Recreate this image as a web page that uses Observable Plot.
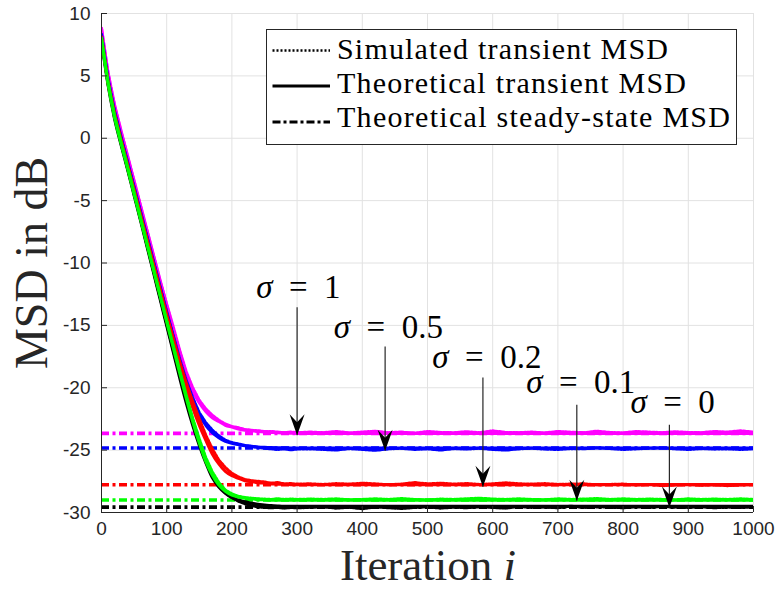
<!DOCTYPE html>
<html>
<head>
<meta charset="utf-8">
<script src="https://cdn.jsdelivr.net/npm/d3@7"></script>
<script src="https://cdn.jsdelivr.net/npm/@observablehq/plot@0.6"></script>
<style>
  html, body { margin: 0; padding: 0; background: #fff; }
  #chart { width: 776px; height: 589px; position: relative; }
</style>
</head>
<body>
<div id="chart"></div>
<script>
// ---------- data ----------
const xTicks = [0, 100, 200, 300, 400, 500, 600, 700, 800, 900, 1000];
const yTicks = [-30, -25, -20, -15, -10, -5, 0, 5, 10];

const sigmaLabels = ["1", "0.5", "0.2", "0.1", "0"];
const seriesColors = ["#ff00ff", "#0000ff", "#ff0000", "#00ff00", "#000000"];

// theoretical transient MSD (dB)
const thIter = [0,10,20,30,40,50,60,70,80,90,100,110,120,130,140,150,160,170,180,190,200,210,220,230,240,250,260,270,280,290,300,1000];
const thSigma1  = [8.8,5.2,2.6,0.5,-1.5,-3.5,-5.5,-7.5,-9.5,-11.5,-13.4,-15.3,-17.2,-19.0,-20.3,-21.2,-21.9,-22.4,-22.7,-23.0,-23.15,-23.3,-23.4,-23.45,-23.5,-23.54,-23.57,-23.6,-23.62,-23.64,-23.66,-23.66];
const thSigma05 = [8.3,4.7,2.1,0.0,-2.0,-4.0,-6.0,-8.0,-10.0,-12.0,-14.0,-15.95,-17.9,-19.6,-21.0,-22.2,-23.0,-23.6,-24.0,-24.3,-24.45,-24.55,-24.65,-24.7,-24.75,-24.78,-24.8,-24.81,-24.82,-24.83,-24.83,-24.83];
const thSigma02 = [8.1,4.5,1.9,-0.2,-2.2,-4.25,-6.3,-8.3,-10.3,-12.3,-14.3,-16.3,-18.3,-20.0,-21.6,-23.0,-24.2,-25.3,-26.1,-26.7,-27.05,-27.25,-27.45,-27.53,-27.6,-27.65,-27.7,-27.72,-27.75,-27.76,-27.77,-27.77];
const thSigma01 = [8.0,4.4,1.7,-0.4,-2.4,-4.45,-6.5,-8.55,-10.6,-12.65,-14.7,-16.75,-18.8,-20.8,-22.7,-24.4,-25.9,-27.0,-27.8,-28.3,-28.6,-28.75,-28.85,-28.9,-28.95,-28.98,-29.0,-29.0,-29.0,-29.0,-29.0,-29.0];
const thSigma0  = [7.9,4.3,1.6,-0.5,-2.5,-4.55,-6.6,-8.7,-10.8,-12.9,-15.0,-17.1,-19.2,-21.2,-23.0,-24.6,-26.0,-27.2,-27.95,-28.45,-28.8,-29.0,-29.15,-29.25,-29.35,-29.4,-29.45,-29.48,-29.5,-29.5,-29.5,-29.5];

// simulated transient MSD (dB)
const simIter = [0,10,20,30,40,50,60,70,80,90,100,110,120,130,140,150,160,170,180,190,200,210,220,230,240,250,260,270,280,290,300,
  320,340,360,380,400,420,440,460,480,500,520,540,560,580,600,620,640,660,680,700,720,740,760,780,800,820,840,860,880,900,920,940,960,980,1000];
const simSigma1 = [8.8,5.3,2.7,0.6,-1.4,-3.4,-5.4,-7.4,-9.4,-11.4,-13.3,-15.1,-17.0,-18.7,-20.0,-21.0,-21.7,-22.2,-22.6,-22.9,-23.1,-23.2,-23.35,-23.4,-23.45,-23.5,-23.5,-23.55,-23.6,-23.55,-23.6,
  -23.55,-23.6,-23.5,-23.62,-23.55,-23.48,-23.6,-23.55,-23.65,-23.5,-23.58,-23.6,-23.52,-23.6,-23.45,-23.58,-23.6,-23.55,-23.62,-23.5,-23.56,-23.6,-23.48,-23.58,-23.62,-23.5,-23.55,-23.6,-23.52,-23.58,-23.6,-23.5,-23.55,-23.45,-23.55];
const simSigma05 = [8.3,4.8,2.2,0.1,-1.9,-3.9,-5.9,-7.9,-9.9,-11.9,-13.9,-15.8,-17.7,-19.4,-20.8,-22.0,-22.8,-23.4,-23.85,-24.2,-24.4,-24.5,-24.62,-24.7,-24.78,-24.85,-24.9,-24.95,-24.9,-24.98,-24.92,
  -24.9,-24.95,-25.0,-24.88,-24.95,-25.02,-24.9,-24.85,-24.95,-24.9,-25.0,-24.88,-24.92,-24.85,-24.95,-25.0,-24.9,-24.85,-24.92,-24.95,-24.88,-24.9,-24.8,-24.88,-24.95,-24.9,-24.85,-24.82,-24.9,-24.95,-24.88,-24.92,-24.9,-24.95,-24.9];
const simSigma02 = [8.1,4.6,2.0,-0.1,-2.1,-4.1,-6.1,-8.1,-10.1,-12.1,-14.1,-16.0,-17.9,-19.6,-21.1,-22.5,-23.8,-24.9,-25.8,-26.4,-26.85,-27.15,-27.35,-27.45,-27.5,-27.55,-27.65,-27.6,-27.7,-27.68,-27.72,
  -27.7,-27.75,-27.68,-27.72,-27.65,-27.7,-27.78,-27.72,-27.6,-27.7,-27.65,-27.72,-27.68,-27.75,-27.7,-27.62,-27.7,-27.72,-27.68,-27.75,-27.72,-27.7,-27.78,-27.75,-27.72,-27.8,-27.75,-27.85,-27.8,-27.75,-27.82,-27.78,-27.85,-27.8,-27.75];
const simSigma01 = [8.0,4.5,1.8,-0.3,-2.3,-4.35,-6.4,-8.45,-10.5,-12.55,-14.6,-16.6,-18.6,-20.6,-22.45,-24.1,-25.6,-26.75,-27.6,-28.2,-28.5,-28.7,-28.8,-28.85,-28.9,-28.92,-28.95,-28.9,-28.95,-28.92,-28.95,
  -28.92,-28.95,-28.9,-28.98,-28.95,-28.9,-28.95,-28.88,-28.95,-29.0,-28.92,-28.95,-28.9,-28.85,-28.92,-28.95,-28.9,-28.95,-28.98,-28.9,-28.95,-28.92,-28.88,-28.95,-28.9,-28.95,-28.92,-28.95,-28.98,-28.9,-28.95,-28.92,-28.95,-28.9,-28.95];
const simSigma0 = [7.9,4.4,1.7,-0.4,-2.4,-4.45,-6.5,-8.6,-10.7,-12.8,-14.9,-17.0,-19.0,-21.0,-22.8,-24.4,-25.8,-27.0,-27.8,-28.4,-28.8,-29.1,-29.3,-29.45,-29.55,-29.6,-29.62,-29.6,-29.65,-29.6,-29.62,
  -29.6,-29.55,-29.65,-29.58,-29.7,-29.55,-29.62,-29.68,-29.6,-29.55,-29.65,-29.58,-29.62,-29.55,-29.6,-29.65,-29.52,-29.6,-29.58,-29.62,-29.5,-29.6,-29.55,-29.58,-29.62,-29.55,-29.6,-29.52,-29.58,-29.6,-29.55,-29.62,-29.58,-29.6,-29.55];

// theoretical steady-state MSD (dB)
const ssLevels = [-23.66, -24.83, -27.77, -29.0, -29.57];

// annotations: arrow x, arrow start, arrow tip, label position
const annX    = [300, 435, 585, 729, 871];
const annTop  = [-13.55, -16.7, -19.17, -21.36, -22.96];
const annTip  = [-23.8, -25.05, -27.93, -29.05, -29.6];
const annTextX = [302, 440, 591, 735, 876];
const annTextY = [-11.95, -15.2, -17.56, -19.57, -21.17];

// legend entries
const legendLabels = ["Simulated transient MSD", "Theoretical transient MSD", "Theoretical steady-state MSD"];

// ---------- build ----------
const thSeries = [thSigma1, thSigma05, thSigma02, thSigma01, thSigma0];
const simSeries = [simSigma1, simSigma05, simSigma02, simSigma01, simSigma0];
const drawOrder = [4, 0, 1, 2, 3]; // black below, green on top

const seriesMarks = [];
for (const s of drawOrder) {
  const th = thIter.map((x, k) => ({x, y: thSeries[s][k]}));
  const sim = simIter.map((x, k) => ({x, y: simSeries[s][k]}));
  seriesMarks.push(Plot.line(th, {x: "x", y: "y", stroke: seriesColors[s], strokeWidth: 3.2, curve: "monotone-x", clip: true}));
  seriesMarks.push(Plot.line(sim, {x: "x", y: "y", stroke: seriesColors[s], strokeWidth: 3, strokeDasharray: "2,1.5", clip: true}));
}

const arrowHead = {
  draw(ctx) {
    ctx.moveTo(0, 0);
    ctx.lineTo(-7.5, -21);
    ctx.lineTo(0, -13);
    ctx.lineTo(7.5, -21);
    ctx.closePath();
  }
};

const annText = sigmaLabels.map(l => "σ\u2002=\u2002" + l);
const fmt = d => String(d);

const chart = Plot.plot({
  width: 776,
  height: 589,
  marginLeft: 101,
  marginRight: 23,
  marginTop: 13,
  marginBottom: 77,
  style: {background: "#fff", fontFamily: "'Liberation Sans', Arial, sans-serif", fontSize: "19px", color: "#262626", overflow: "visible"},
  x: {domain: [0, 1000]},
  y: {domain: [-30, 10]},
  marks: [
    Plot.gridX(xTicks, {stroke: "#e2e2e2", strokeOpacity: 1, strokeWidth: 1}),
    Plot.gridY(yTicks, {stroke: "#e2e2e2", strokeOpacity: 1, strokeWidth: 1}),
    Plot.axisX(xTicks, {tickSize: 0, tickPadding: 9, label: null, tickFormat: fmt, fontSize: 19, fill: "#262626"}),
    Plot.axisY(yTicks, {tickSize: 0, tickPadding: 11, label: null, tickFormat: fmt, fontSize: 19, fill: "#262626"}),
    Plot.ruleY(ssLevels, {y: d => d, x1: 0, x2: 1000, stroke: (d, i) => seriesColors[i], strokeWidth: 3.6, strokeDasharray: "8,3.5,3,3.5"}),
    ...seriesMarks,
    Plot.ruleY([-30], {x1: 0, x2: 1000, stroke: "#262626", strokeWidth: 1}),
    Plot.ruleX([0], {y1: -30, y2: 10, stroke: "#262626", strokeWidth: 1}),
    Plot.ruleX(xTicks, {x: d => d, y1: -30, y2: -30, insetTop: -6, stroke: "#262626"}),
    Plot.ruleY(yTicks, {y: d => d, x1: 0, x2: 0, insetRight: -6, stroke: "#262626"}),
    Plot.link(sigmaLabels, {x1: annX, x2: annX, y1: annTop, y2: annTip, stroke: "#262626", strokeWidth: 1.2}),
    Plot.dot(sigmaLabels, {x: annX, y: annTip, symbol: arrowHead, fill: "#000", stroke: "none", r: 5}),
    Plot.text(annText, {x: annTextX, y: annTextY, text: d => d, fontSize: 33, fontFamily: "'Liberation Serif', 'Times New Roman', serif", fill: "#000", textAnchor: "middle", lineAnchor: "middle"})
  ]
});

const svg = d3.select(chart);

// italic sigma in annotations
svg.selectAll("text").filter(function () { return this.textContent.startsWith("σ"); }).each(function () {
  const t = this.textContent;
  const el = d3.select(this);
  el.text(null);
  el.append("tspan").attr("font-style", "italic").text("σ");
  el.append("tspan").text(t.slice(1));
});

const serif = "'Liberation Serif', 'Times New Roman', serif";

// axis labels
svg.append("text")
  .attr("transform", "translate(31,263) rotate(-90)")
  .attr("text-anchor", "middle")
  .attr("dominant-baseline", "central")
  .attr("font-family", serif)
  .attr("font-size", 46)
  .attr("fill", "#262626")
  .text("MSD in dB");

const xl = svg.append("text")
  .attr("x", 428).attr("y", 580)
  .attr("text-anchor", "middle")
  .attr("font-family", serif)
  .attr("font-size", 45)
  .attr("fill", "#262626");
xl.append("tspan").text("Iteration ");
xl.append("tspan").attr("font-style", "italic").text("i");

// legend
const lg = svg.append("g");
lg.append("rect").attr("x", 266.5).attr("y", 29.5).attr("width", 470).attr("height", 115)
  .attr("fill", "#fff").attr("stroke", "#262626").attr("stroke-width", 1);
const rowsY = [50.5, 86, 122];
const baseY = [59, 93, 127];
const dashes = ["2,2", null, "8,3,3,3"];
const widths = [331, 349, 393];
legendLabels.forEach((lab, k) => {
  const ln = lg.append("line").attr("x1", 272.5).attr("x2", 330).attr("y1", rowsY[k]).attr("y2", rowsY[k])
    .attr("stroke", "#000").attr("stroke-width", k === 0 ? 2.5 : 3);
  if (dashes[k]) ln.attr("stroke-dasharray", dashes[k]);
  lg.append("text").attr("x", 337).attr("y", baseY[k])
    .attr("text-anchor", "start")
    .attr("font-family", serif).attr("font-size", 30).attr("fill", "#000")
    .attr("textLength", widths[k]).attr("lengthAdjust", "spacing")
    .text(lab);
});

document.getElementById("chart").appendChild(chart);
</script>
</body>
</html>
